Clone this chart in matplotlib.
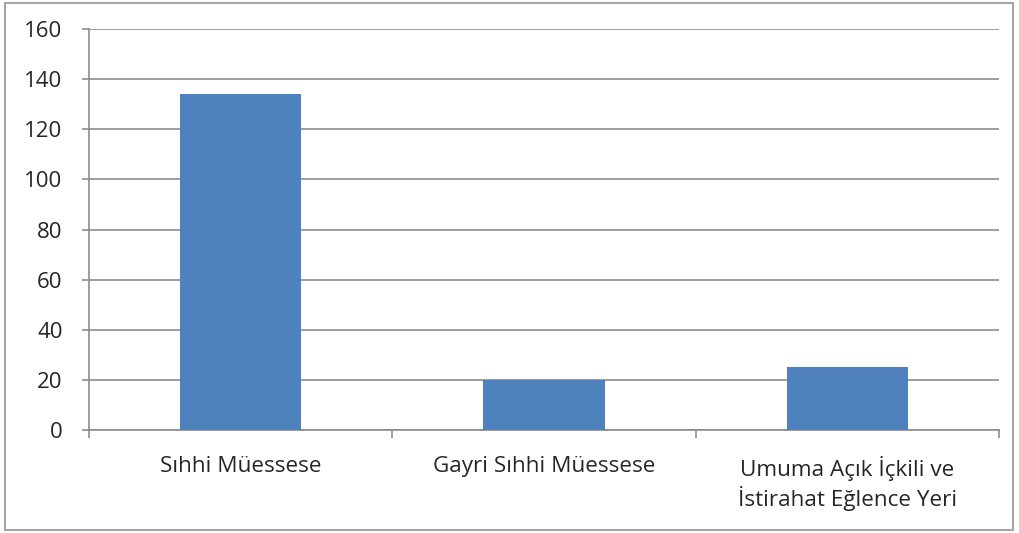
import matplotlib
matplotlib.use("Agg")
import matplotlib.pyplot as plt
from matplotlib.patches import Rectangle

categories = ["Sıhhi Müessese", "Gayri Sıhhi Müessese", "Umuma Açık İçkili ve\nİstirahat Eğlence Yeri"]
values = [134, 20, 25]
y_ticks = [0, 20, 40, 60, 80, 100, 120, 140, 160]

plt.rcParams['font.family'] = ['Open Sans', 'DejaVu Sans']

fig = plt.figure(figsize=(10.19, 5.33), dpi=100)
ax = fig.add_axes([89 / 1019, 103 / 533, 910 / 1019, 401 / 533])

positions = list(range(len(categories)))
ax.bar(positions, values, width=0.4, color="#4f81bd", zorder=3)

ax.set_xlim(-0.5, len(categories) - 0.5)
ax.set_ylim(0, 160)
ax.set_yticks(y_ticks)
ax.yaxis.grid(True, color="#8c8c8c", linewidth=1.2, zorder=0)

# category labels centred, ticks on the boundaries
ax.set_xticks(positions)
ax.set_xticklabels(categories, fontsize=16.2, color="#262626", linespacing=1.25)
ax.tick_params(axis="x", length=0, pad=19)
ax.set_xticks([p - 0.5 for p in range(len(categories) + 1)], minor=True)
ax.tick_params(axis="x", which="minor", length=6, color="#8c8c8c", width=1.2, direction="out")
ax.tick_params(axis="y", length=5, color="#8c8c8c", width=1.2, labelsize=16,
               labelcolor="#262626", pad=14)

for side in ["top", "right"]:
    ax.spines[side].set_visible(False)
for side in ["left", "bottom"]:
    ax.spines[side].set_color("#8c8c8c")
    ax.spines[side].set_linewidth(1.2)

# outer chart border
fig.patches.append(Rectangle((5 / 1019, 3 / 533), 1008 / 1019, 527 / 533,
                             transform=fig.transFigure, fill=False,
                             edgecolor="#a6a6a6", linewidth=1.5))

fig.savefig("out.png", dpi=100)
